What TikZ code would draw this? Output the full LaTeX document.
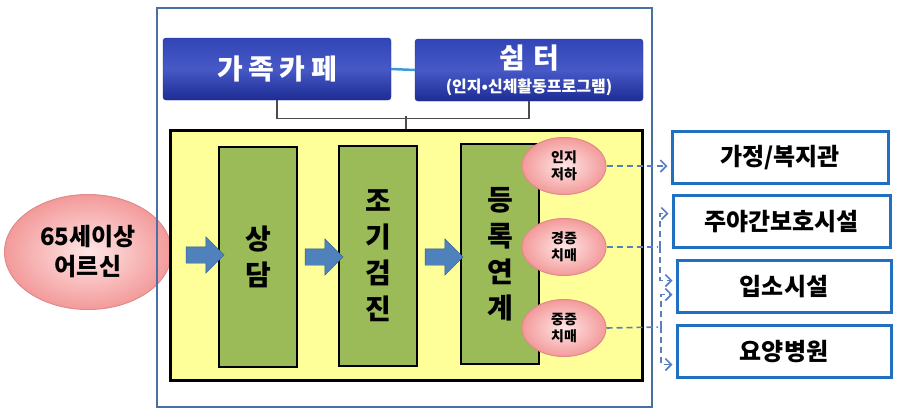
\documentclass[tikz,border=0pt]{standalone}
\usepackage{fontspec}
\setmainfont{Noto Sans CJK KR}
\usetikzlibrary{shapes.geometric,shapes.arrows,arrows.meta,calc}

\definecolor{navytop}{HTML}{3245B6}
\definecolor{navymid}{HTML}{4659C6}
\definecolor{navybot}{HTML}{1E2C94}
\definecolor{frameblue}{HTML}{4A6FA5}
\definecolor{boxblue}{HTML}{1F70C1}
\definecolor{linkblue}{HTML}{5A7FC0}
\definecolor{arrowblue}{HTML}{4F81BD}
\definecolor{arrowedge}{HTML}{385D8A}
\definecolor{stepgreen}{HTML}{9BBB59}
\definecolor{careyellow}{HTML}{FFFF99}
\definecolor{pinkin}{HTML}{FFE6E6}
\definecolor{pinkout}{HTML}{F39A9A}
\definecolor{pinkedge}{HTML}{E08A8A}
\definecolor{cafelink}{HTML}{3E9AD6}

\tikzset{
  topbox/.style={draw=navybot, rounded corners=3pt, top color=navytop,
    bottom color=navybot, middle color=navymid, text=white,
    minimum width=228, minimum height=62, align=center},
  stepbox/.style={draw=black, line width=2.5pt, fill=stepgreen, align=center,
    minimum width=78, minimum height=220,
    font=\bfseries\fontsize{28}{36}\selectfont},
  blockarrow/.style={single arrow, draw=arrowedge, fill=arrowblue,
    minimum height=38, minimum width=36, single arrow head extend=10pt,
    inner xsep=0pt, inner ysep=8pt},
  pinkball/.style={ellipse, draw=pinkedge, line width=1pt, shading=radial,
    inner color=pinkin, outer color=pinkout, align=center, inner sep=0pt},
  smallball/.style={pinkball, minimum width=84, minimum height=57,
    font=\bfseries\fontsize{14}{17}\selectfont},
  placebox/.style={draw=boxblue, line width=3pt, fill=white,
    minimum height=52, font=\bfseries\fontsize{24}{28}\selectfont},
  linkline/.style={draw=linkblue, line width=1.6pt, dash pattern=on 6pt off 4pt,
    -{Straight Barb[length=6pt,width=12pt]}, shorten >=3pt},
  bracket/.style={draw=black!70, line width=1.3pt}
}

\begin{document}
\begin{tikzpicture}[x=1pt, y=-1pt]

    \useasboundingbox (0,0) rectangle (906,416);

    % Senior citizens
    \node[pinkball, minimum width=167, minimum height=115,
      font=\bfseries\fontsize{24}{30}\selectfont] (elder) at (88,252) {65세이상\\어르신};

    % Outer frame
    \draw[frameblue, line width=1.5pt] (157,8) rectangle (652,407);

    % Top boxes
    \node[topbox, font=\bfseries\fontsize{28}{30}\selectfont] (cafe) at (277,69)
      {\addfontfeatures{LetterSpace=20}가족카페};
    \node[topbox, font=\bfseries\fontsize{28}{30}\selectfont] (shelter) at (529,70)
      {\addfontfeatures{LetterSpace=30}쉼터\\[-6pt]
       {\fontsize{16}{18}\selectfont (인지•신체활동프로그램)}};
    \draw[cafelink, line width=2.5pt] (cafe.east) -- (shelter.west);

    % Care area
    \node[draw=black, line width=3pt, fill=careyellow,
      minimum width=472, minimum height=250] (care) at (406,255) {};
    \draw[bracket] (cafe.south) -- ++(0,18) -| (shelter.south);
    \draw[bracket] (care.north) -- ++(0,-13);

    % Steps
    \node[stepbox] (talk) at (258,257) {상\\담};
    \node[stepbox] (check) at (378,256) {조\\기\\검\\진};
    \node[stepbox] (enrol) at (500,254) {등\\록\\연\\계};

    % Block arrows
    \node[blockarrow] (ar1) at (201,255) {};
    \node[blockarrow] (ar2) at (320,257) {};
    \node[blockarrow] (ar3) at (440,257) {};

    % Conditions
    \node[smallball] (cog) at (564,166) {인지\\저하};
    \node[smallball] (mild) at (564,247) {경증\\치매};
    \node[smallball] (sev) at (564,328) {중증\\치매};

    % Places
    \node[placebox, minimum width=216] (home) at (780,157.5) {가정/복지관};
    \node[placebox, minimum width=217] (day) at (781.5,221.5) {주야간보호시설};
    \node[placebox, minimum width=214] (inst) at (784,286.5) {입소시설};
    \node[placebox, minimum width=214] (hosp) at (784,351.5) {요양병원};

    % Links
    \coordinate (jm) at (660,247);
    \coordinate (js) at (661,327);
    \draw[linkline] (cog.east) -- (cog.east -| home.west);
    \draw[linkline, -] (mild.east) -- (jm);
    \draw[linkline] (jm) |- ($(day.west)+(0,-8)$);
    \draw[linkline] (jm) |- ($(inst.west)+(0,-6)$);
    \draw[linkline, -] (sev.east) -- (js);
    \draw[linkline] (js) |- ($(inst.west)+(0,8)$);
    \draw[linkline] (js) |- ($(hosp.west)+(0,13)$);

\end{tikzpicture}
\end{document}
